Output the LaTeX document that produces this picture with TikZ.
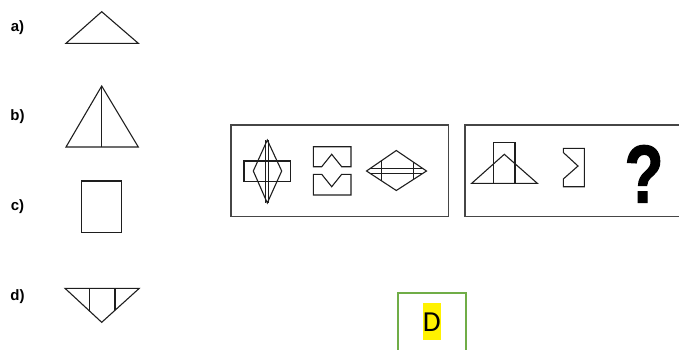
\documentclass[tikz,border=0pt]{standalone}
\usepackage{fontspec}
\setmainfont{Liberation Sans}
\newfontfamily\calfont{Carlito}
\newfontfamily\qfont[FakeBold=1.5]{Liberation Sans Bold}
\usetikzlibrary{positioning}
\definecolor{boxgreen}{RGB}{112,173,71}
\definecolor{figline}{RGB}{30,30,30}
\definecolor{panelline}{RGB}{70,70,70}

\begin{document}
\begin{tikzpicture}[x=1pt, y=-1pt,
      lbl/.style={font=\fontsize{15}{15}\selectfont\bfseries, inner sep=0pt},
      fg/.style={draw=figline, line width=1.1pt},
      pn/.style={draw=panelline, line width=1.3pt},
      qm/.style={font=\qfont\fontsize{82}{82}\selectfont, inner sep=0pt, anchor=base},
      ans/.style={fill=yellow, inner sep=0pt, text height=28pt, text depth=9pt,
                  font=\calfont\fontsize{29}{29}\selectfont, anchor=base}
    ]
    \clip (0,0) rectangle (679,349);
    % answer choices
    \node[lbl] (la) at (17.5, 27.7) {a)};
    \node[lbl] (lb) at (17.5, 116.7) {b)};
    \node[lbl] (lc) at (17.5, 206.7) {c)};
    \node[lbl] (ld) at (17.5, 296.7) {d)};
    \draw[fg] (66,43.3) -- (101.7,11.7) -- (138.3,43.3) -- cycle;
    \draw[fg] (66,147) -- (101.7,86) -- (138.3,147) -- cycle;
    \draw[fg] (101.7,86) -- (101.7,147);
    \draw[fg] (81.7,181) rectangle (121.7,232.7);
    \draw[fg] (65,288.3) -- (139.3,288.3) -- (101.7,322.3) -- cycle;
    \draw[fg] (89.3,288.3) -- (89.3,311.1);
    \draw[fg] (115,288.3) -- (115,310.2);
    % first panel
    \draw[pn] (231,125) rectangle (448.3,216.7);
    \draw[fg] (244,161) rectangle (290.7,181.7);
    \draw[fg] (267.3,140) -- (281.7,171) -- (267.3,203) -- (253.3,171) -- cycle;
    \draw[fg] (265.8,140) -- (265.8,203);
    \draw[fg] (268.8,140) -- (268.8,203);
    \draw[fg] (313.3,146.7) -- (351,146.7) -- (351,166.7) -- (341.7,166.7)
      -- (331.7,154.3) -- (321.7,166.7) -- (313.3,166.7) -- cycle;
    \draw[fg] (313.3,174.3) -- (321.7,174.3) -- (331.7,186.7) -- (341.7,174.3)
      -- (351,174.3) -- (351,195) -- (313.3,195) -- cycle;
    \draw[fg] (366.5,171) -- (396.3,150.5) -- (426.5,171) -- (396.3,190.5) -- cycle;
    \draw[fg] (371,168.8) -- (422,168.8);
    \draw[fg] (371,173.2) -- (422,173.2);
    \draw[fg] (381.7,160.8) -- (381.7,181.2);
    \draw[fg] (413.3,162.2) -- (413.3,179.8);
    % second panel
    \draw[pn] (465,125) rectangle (690,216.7);
    \draw[fg] (471.7,183.3) -- (504.3,154.3) -- (537.3,183.3) -- cycle;
    \draw[fg] (493.3,183.3) -- (493.3,142.7) -- (515,142.7) -- (515,183.3);
    \draw[fg] (563.3,148.3) -- (584.3,148.3) -- (584.3,186.7) -- (563.3,186.7)
      -- (563.3,179) -- (578,166) -- (563.3,152.5) -- cycle;
    \node[qm] (quest) at (644,202.5) {\scalebox{0.78}[1]{?}};
    % answer box
    \draw[boxgreen, line width=2pt] (398.3,360) -- (398.3,292.7) -- (465.7,292.7) -- (465.7,360);
    \node[ans] (dmark) at (431.7,331) {D};
\end{tikzpicture}
\end{document}
